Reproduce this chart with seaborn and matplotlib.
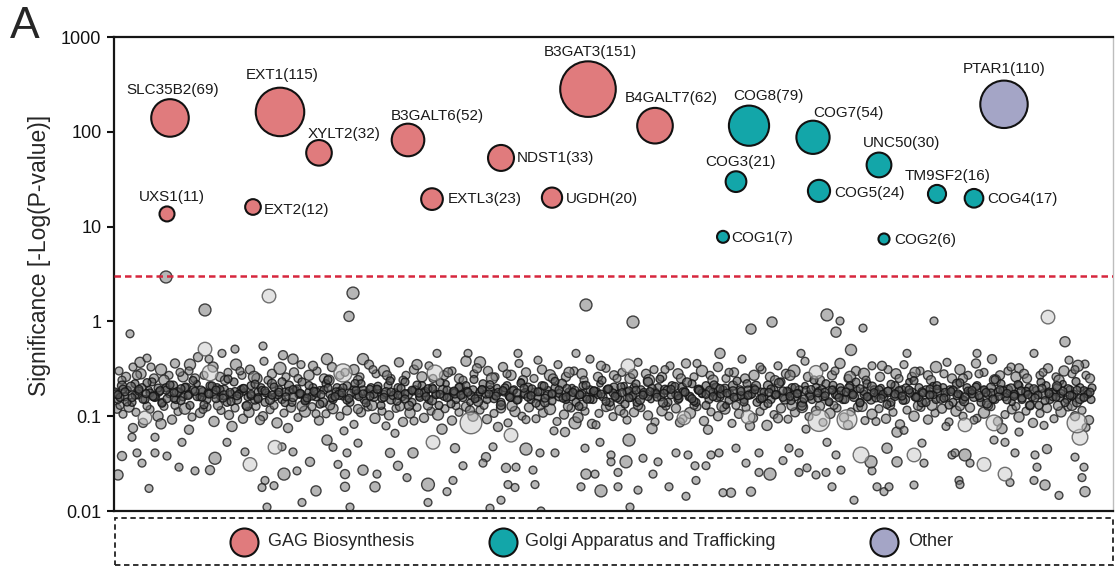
import matplotlib
matplotlib.use("Agg")
import matplotlib.pyplot as plt
from matplotlib.patches import Rectangle
import pandas as pd
import seaborn as sns

# ---------------- screen hits (labelled genes) ----------------
genes = ["SLC35B2", "EXT1", "XYLT2", "UXS1", "EXT2", "B3GALT6", "NDST1", "EXTL3", "UGDH",
         "B3GAT3", "B4GALT7", "COG8", "COG3", "COG1", "COG7", "COG5", "UNC50", "TM9SF2",
         "COG4", "COG2", "PTAR1"]
gene_group = ["GAG Biosynthesis"] * 11 + ["Golgi Apparatus and Trafficking"] * 9 + ["Other"]
gene_pos = [56, 166, 205, 53, 139, 294, 387, 318, 438, 474, 541,
            635, 622, 609, 699, 705, 765, 823, 860, 770, 890]
gene_sig = [140, 162, 60, 13.6, 16.1, 82, 53, 19.5, 20.2, 282, 116,
            116, 29.8, 7.8, 87.5, 23.8, 44.7, 22.1, 19.9, 7.4, 195]
gene_n = [69, 115, 32, 11, 12, 52, 33, 23, 20, 151, 62,
          79, 21, 7, 54, 24, 30, 16, 17, 6, 110]

group_order = ["GAG Biosynthesis", "Golgi Apparatus and Trafficking", "Other"]
threshold = 3.0
y_ticks = [0.01, 0.1, 1, 10, 100, 1000]
y_tick_labels = ["0.01", "0.1", "1", "10", "100", "1000"]

# ---------------- all other genes: (position, significance, guides) ----------------
cloud_band = [
    (1,0.18,3),(4,0.15,3),(8,0.21,4),(11,0.16,3),(14,0.19,2),(18,0.14,3),(21,0.22,3),(24,0.17,4),(28,0.2,3),(31,0.15,3),
    (35,0.19,2),(38,0.23,3),(41,0.16,4),(45,0.18,3),(48,0.14,3),(52,0.2,3),(55,0.17,2),(59,0.21,4),(62,0.15,3),(65,0.18,3),
    (69,0.16,3),(72,0.2,4),(76,0.13,3),(79,0.19,3),(83,0.22,2),(86,0.16,3),(89,0.18,4),(93,0.15,3),(96,0.21,3),(100,0.17,3),
    (103,0.2,3),(106,0.16,2),(110,0.19,4),(113,0.14,3),(117,0.17,3),(120,0.23,3),(123,0.15,4),(127,0.19,3),(130,0.18,2),(134,0.16,3),
    (137,0.21,3),(141,0.15,4),(144,0.18,3),(147,0.2,3),(151,0.14,3),(154,0.17,2),(158,0.22,4),(161,0.16,3),(165,0.19,3),(168,0.15,3),
    (171,0.18,3),(175,0.21,4),(178,0.14,3),(182,0.19,2),(185,0.17,3),(188,0.23,3),(192,0.15,4),(195,0.18,3),(199,0.2,3),(202,0.16,3),
    (206,0.19,2),(209,0.14,4),(212,0.22,3),(216,0.17,3),(219,0.15,3),(223,0.2,3),(226,0.18,4),(229,0.16,2),(233,0.21,3),(236,0.14,3),
    (240,0.19,3),(243,0.17,4),(247,0.22,3),(250,0.15,3),(253,0.18,2),(257,0.2,3),(260,0.16,4),(264,0.19,3),(267,0.13,3),(270,0.17,3),
    (274,0.21,3),(277,0.15,4),(281,0.18,2),(284,0.2,3),(288,0.16,3),(291,0.23,3),(294,0.17,4),(298,0.14,3),(301,0.19,3),(305,0.16,2),
    (308,0.21,3),(311,0.18,4),(315,0.15,3),(318,0.2,3),(322,0.17,3),(325,0.13,3),(329,0.19,4),(332,0.22,2),(335,0.16,3),(339,0.18,3),
    (342,0.15,3),(346,0.2,4),(349,0.17,3),(352,0.21,3),(356,0.14,2),(359,0.19,3),(363,0.16,4),(366,0.18,3),(369,0.22,3),(373,0.15,3),
    (376,0.19,3),(380,0.17,4),(383,0.2,2),(387,0.14,3),(390,0.18,3),(393,0.21,3),(397,0.16,4),(400,0.19,3),(404,0.15,3),(407,0.23,2),
    (410,0.17,3),(414,0.2,4),(417,0.15,3),(421,0.18,3),(424,0.16,3),(428,0.21,3),(431,0.14,4),(434,0.19,2),(438,0.17,3),(441,0.2,3),
    (445,0.16,3),(448,0.22,4),(452,0.15,3),(455,0.18,3),(458,0.2,2),(462,0.14,3),(465,0.17,4),(469,0.21,3),(472,0.16,3),(476,0.19,3),
    (479,0.15,3),(482,0.18,4),(486,0.22,2),(489,0.16,3),(493,0.19,3),(496,0.14,3),(500,0.2,4),(503,0.17,3),(506,0.15,3),(510,0.21,2),
    (513,0.18,3),(517,0.16,4),(520,0.2,3),(523,0.14,3),(527,0.19,3),(530,0.17,3),(534,0.23,4),(537,0.15,2),(541,0.18,3),(544,0.2,3),
    (547,0.16,3),(551,0.19,4),(554,0.14,3),(558,0.21,3),(561,0.17,2),(564,0.15,3),(568,0.2,4),(571,0.18,3),(575,0.16,3),(578,0.22,3),
    (582,0.14,3),(585,0.19,4),(588,0.17,2),(592,0.21,3),(595,0.15,3),(599,0.18,3),(602,0.2,4),(606,0.16,3),(609,0.19,3),(612,0.13,2),
    (616,0.17,3),(619,0.21,4),(623,0.16,3),(626,0.19,3),(630,0.15,3),(633,0.22,3),(636,0.17,4),(640,0.2,2),(643,0.14,3),(647,0.18,3),
    (650,0.16,3),(654,0.21,4),(657,0.15,3),(660,0.19,3),(664,0.17,2),(667,0.23,3),(671,0.15,4),(674,0.18,3),(678,0.2,3),(681,0.16,3),
    (685,0.19,3),(688,0.14,4),(691,0.21,2),(695,0.17,3),(698,0.15,3),(702,0.2,3),(705,0.18,4),(709,0.16,3),(712,0.22,3),(715,0.14,2),
    (719,0.19,3),(722,0.17,4),(726,0.2,3),(729,0.15,3),(733,0.18,3),(736,0.21,3),(740,0.16,4),(743,0.19,2),(746,0.14,3),(750,0.17,3),
    (753,0.22,3),(757,0.15,4),(760,0.19,3),(764,0.17,3),(767,0.2,2),(770,0.16,3),(774,0.18,4),(777,0.14,3),(781,0.21,3),(784,0.17,3),
    (788,0.19,3),(791,0.15,4),(795,0.23,2),(798,0.18,3),(801,0.16,3),(805,0.2,3),(808,0.14,4),(812,0.19,3),(815,0.17,3),(819,0.21,2),
    (822,0.15,3),(825,0.18,4),(829,0.2,3),(832,0.16,3),(836,0.19,3),(839,0.14,3),(843,0.22,4),(846,0.17,2),(849,0.15,3),(853,0.2,3),
    (856,0.18,3),(860,0.16,4),(863,0.21,3),(867,0.14,3),(870,0.19,2),(874,0.17,3),(877,0.2,4),(881,0.15,3),(884,0.18,3),(887,0.22,3),
    (891,0.16,3),(894,0.19,4),(898,0.14,2),(901,0.17,3),(905,0.21,3),(908,0.15,3),(912,0.18,4),(915,0.2,3),(918,0.16,3),(922,0.19,2),
    (925,0.13,3),(929,0.17,4),(932,0.21,3),(936,0.15,3),(939,0.18,3),(943,0.2,3),(946,0.16,4),(949,0.22,2),(953,0.15,3),(956,0.19,3),
    (960,0.17,3),(963,0.14,4),(966,0.2,3),(970,0.16,3),(973,0.18,3),(977,0.15,3),
]

cloud_core = [
    (2,0.172,3),(6,0.158,3),(9,0.193,3),(13,0.141,3),(17,0.205,4),(21,0.167,3),(25,0.184,3),(29,0.151,3),(33,0.226,3),(36,0.176,3),
    (40,0.162,4),(44,0.198,3),(48,0.137,3),(52,0.188,3),(56,0.214,3),(60,0.155,3),(63,0.179,4),(67,0.146,3),(71,0.201,3),(75,0.169,3),
    (79,0.238,3),(83,0.161,3),(87,0.186,4),(90,0.132,3),(94,0.174,3),(98,0.209,3),(102,0.153,3),(106,0.191,3),(110,0.166,4),(114,0.247,3),
    (117,0.143,3),(121,0.182,3),(125,0.171,3),(129,0.196,3),(133,0.128,4),(137,0.164,3),(141,0.218,3),(144,0.157,3),(148,0.187,3),(152,0.176,3),
    (156,0.149,4),(160,0.203,3),(164,0.168,3),(168,0.231,3),(171,0.139,3),(175,0.183,3),(179,0.159,4),(183,0.194,3),(187,0.172,3),(191,0.145,3),
    (195,0.211,3),(198,0.163,3),(202,0.178,4),(206,0.134,3),(210,0.189,3),(214,0.242,3),(218,0.156,3),(222,0.181,3),(225,0.168,4),(229,0.199,3),
    (233,0.148,3),(237,0.175,3),(241,0.221,3),(245,0.161,3),(249,0.186,4),(252,0.138,3),(256,0.192,3),(260,0.171,3),(264,0.207,3),(268,0.154,3),
    (272,0.179,4),(276,0.236,3),(279,0.165,3),(283,0.144,3),(287,0.197,3),(291,0.173,3),(295,0.129,4),(299,0.184,3),(303,0.213,3),(306,0.158,3),
    (310,0.177,3),(314,0.195,3),(318,0.147,4),(322,0.169,3),(326,0.228,3),(330,0.162,3),(333,0.188,3),(337,0.135,3),(341,0.174,4),(345,0.202,3),
    (349,0.157,3),(353,0.183,3),(357,0.166,3),(360,0.244,3),(364,0.142,4),(368,0.191,3),(372,0.171,3),(376,0.215,3),(380,0.153,3),(384,0.178,3),
    (387,0.131,4),(391,0.199,3),(395,0.164,3),(399,0.186,3),(403,0.148,3),(407,0.223,3),(411,0.175,4),(414,0.159,3),(418,0.194,3),(422,0.137,3),
    (426,0.181,3),(430,0.208,3),(434,0.167,4),(438,0.145,3),(441,0.233,3),(445,0.174,3),(449,0.155,3),(453,0.196,3),(457,0.163,4),(461,0.187,3),
    (465,0.127,3),(468,0.172,3),(472,0.212,3),(476,0.151,3),(480,0.182,4),(484,0.169,3),(488,0.239,3),(492,0.143,3),(495,0.193,3),(499,0.176,3),
    (503,0.158,4),(507,0.204,3),(511,0.134,3),(515,0.185,3),(519,0.166,3),(522,0.219,3),(526,0.149,4),(530,0.178,3),(534,0.161,3),(538,0.197,3),
    (542,0.173,3),(546,0.246,3),(549,0.139,4),(553,0.188,3),(557,0.168,3),(561,0.206,3),(565,0.154,3),(569,0.181,3),(573,0.227,4),(576,0.162,3),
    (580,0.144,3),(584,0.192,3),(588,0.175,3),(592,0.13,3),(596,0.186,4),(600,0.214,3),(603,0.157,3),(607,0.171,3),(611,0.198,3),(615,0.147,3),
    (619,0.183,4),(623,0.235,3),(627,0.165,3),(630,0.141,3),(634,0.189,3),(638,0.172,3),(642,0.209,4),(646,0.152,3),(650,0.179,3),(654,0.136,3),
    (657,0.194,3),(661,0.167,3),(665,0.224,4),(669,0.158,3),(673,0.184,3),(677,0.146,3),(681,0.201,3),(684,0.174,3),(688,0.129,4),(692,0.187,3),
    (696,0.163,3),(700,0.241,3),(704,0.155,3),(708,0.191,3),(711,0.176,4),(715,0.142,3),(719,0.212,3),(723,0.168,3),(727,0.185,3),(731,0.15,3),
    (735,0.197,4),(738,0.173,3),(742,0.229,3),(746,0.138,3),(750,0.182,3),(754,0.161,3),(758,0.205,4),(762,0.156,3),(765,0.19,3),(769,0.17,3),
    (773,0.133,3),(777,0.217,3),(781,0.164,4),(785,0.186,3),(789,0.147,3),(792,0.199,3),(796,0.175,3),(800,0.237,3),(804,0.159,4),(808,0.181,3),
    (812,0.14,3),(816,0.193,3),(819,0.168,3),(823,0.21,3),(827,0.153,4),(831,0.178,3),(835,0.131,3),(839,0.189,3),(843,0.165,3),(846,0.225,3),
    (850,0.144,4),(854,0.184,3),(858,0.172,3),(862,0.203,3),(866,0.157,3),(870,0.19,3),(873,0.136,4),(877,0.176,3),(881,0.243,3),(885,0.162,3),
    (889,0.187,3),(893,0.149,3),(897,0.196,4),(900,0.17,3),(904,0.216,3),(908,0.155,3),(912,0.183,3),(916,0.13,3),(920,0.192,4),(924,0.167,3),
    (927,0.228,3),(931,0.146,3),(935,0.18,3),(939,0.16,3),(943,0.207,4),(947,0.174,3),(951,0.139,3),(954,0.195,3),(958,0.164,3),(962,0.232,3),
    (966,0.152,4),(970,0.186,3),(974,0.171,3),(978,0.199,3),
]

cloud_center = [
    (4,0.168,3),(11,0.181,3),(18,0.157,3),(25,0.192,3),(32,0.173,3),(39,0.162,3),(46,0.186,3),(53,0.153,3),(60,0.177,3),(67,0.195,3),
    (74,0.165,3),(81,0.183,3),(88,0.159,3),(95,0.171,3),(102,0.189,3),(109,0.155,3),(116,0.178,3),(123,0.164,3),(130,0.196,3),(137,0.17,3),
    (144,0.152,3),(151,0.185,3),(158,0.167,3),(165,0.179,3),(172,0.16,3),(179,0.191,3),(186,0.174,3),(193,0.156,3),(200,0.183,3),(207,0.169,3),
    (214,0.198,3),(221,0.161,3),(228,0.176,3),(235,0.154,3),(242,0.187,3),(249,0.172,3),(256,0.163,3),(263,0.193,3),(270,0.158,3),(277,0.18,3),
    (284,0.166,3),(291,0.152,3),(298,0.188,3),(305,0.175,3),(312,0.161,3),(319,0.194,3),(326,0.17,3),(333,0.157,3),(340,0.184,3),(347,0.166,3),
    (354,0.179,3),(361,0.153,3),(368,0.19,3),(375,0.172,3),(382,0.163,3),(389,0.186,3),(396,0.158,3),(403,0.176,3),(410,0.197,3),(417,0.165,3),
    (424,0.181,3),(431,0.155,3),(438,0.173,3),(445,0.189,3),(452,0.16,3),(459,0.178,3),(466,0.168,3),(473,0.151,3),(480,0.185,3),(487,0.171,3),
    (494,0.194,3),(501,0.162,3),(508,0.177,3),(515,0.156,3),(522,0.188,3),(529,0.167,3),(536,0.182,3),(543,0.159,3),(550,0.174,3),(557,0.192,3),
    (564,0.164,3),(571,0.179,3),(578,0.153,3),(585,0.187,3),(592,0.17,3),(599,0.161,3),(606,0.196,3),(613,0.175,3),(620,0.158,3),(627,0.183,3),
    (634,0.166,3),(641,0.19,3),(648,0.155,3),(655,0.178,3),(662,0.169,3),(669,0.185,3),(676,0.162,3),(683,0.173,3),(690,0.152,3),(697,0.191,3),
    (704,0.176,3),(711,0.164,3),(718,0.188,3),(725,0.157,3),(732,0.18,3),(739,0.168,3),(746,0.195,3),(753,0.16,3),(760,0.177,3),(767,0.154,3),
    (774,0.184,3),(781,0.171,3),(788,0.163,3),(795,0.189,3),(802,0.158,3),(809,0.176,3),(816,0.167,3),(823,0.193,3),(830,0.155,3),(837,0.182,3),
    (844,0.172,3),(851,0.16,3),(858,0.187,3),(865,0.165,3),(872,0.178,3),(879,0.152,3),(886,0.19,3),(893,0.174,3),(900,0.162,3),(907,0.185,3),
    (914,0.169,3),(921,0.156,3),(928,0.197,3),(935,0.173,3),(942,0.159,3),(949,0.183,3),(956,0.166,3),(963,0.188,3),(970,0.157,3),(976,0.179,3),
]

cloud_upper = [
    (52,2.94,7),(155,1.85,9),(91,1.32,7),(16,0.74,3),(91,0.51,9),(149,0.55,3),(108,0.46,3),(121,0.51,3),
    (26,0.37,5),(76,0.35,6),(96,0.286,12),(239,1.99,7),(235,1.13,5),(179,0.40,5),(213,0.40,6),(249,0.40,6),
    (229,0.286,16),(323,0.46,3),(321,0.286,12),(472,1.49,7),(519,0.985,7),(637,0.83,5),(658,0.985,5),
    (514,0.34,9),(606,0.46,5),(713,1.17,7),(726,1.01,3),(722,0.77,5),(749,0.85,3),(820,1.01,3),(687,0.46,3),
    (737,0.50,6),(793,0.46,3),(934,1.11,9),(951,0.61,5),(863,0.46,3),(878,0.40,4),(920,0.46,3),(955,0.39,3),
    (971,0.355,3),(905,0.32,4),(354,0.46,3),(404,0.46,3),(462,0.46,3),(366,0.37,6),
    (5,0.3,3),(12,0.26,4),(19,0.33,3),(27,0.28,5),(33,0.41,3),(40,0.25,4),(47,0.31,6),(55,0.27,3),(61,0.36,4),
    (69,0.26,5),(75,0.3,3),(84,0.42,4),(90,0.27,3),(99,0.33,5),(106,0.26,4),(114,0.29,3),(122,0.35,6),(128,0.27,3),
    (136,0.31,4),(143,0.25,5),(150,0.38,3),(158,0.28,4),(166,0.32,7),(172,0.26,3),(180,0.29,4),(187,0.35,3),
    (195,0.27,5),(203,0.3,3),(210,0.25,4),(218,0.33,4),(226,0.27,3),(240,0.31,5),(246,0.26,3),(255,0.35,4),
    (262,0.28,3),(270,0.3,6),(277,0.25,3),(285,0.37,4),(292,0.27,3),(300,0.31,4),(308,0.26,5),(315,0.34,3),
    (330,0.27,4),(338,0.3,3),(345,0.25,4),(352,0.38,5),(360,0.28,3),(374,0.3,4),(381,0.26,3),(389,0.33,4),
    (397,0.27,5),(405,0.36,3),(412,0.29,4),(420,0.25,3),(428,0.31,4),(436,0.27,6),(444,0.35,3),(452,0.26,4),
    (460,0.3,3),(468,0.28,5),(476,0.4,3),(484,0.26,4),(492,0.32,3),(500,0.27,4),(508,0.29,3),(516,0.25,5),
    (524,0.37,3),(532,0.28,4),(540,0.31,3),(548,0.26,4),(556,0.34,3),(564,0.28,5),(572,0.36,4),(580,0.26,3),
    (588,0.3,6),(596,0.27,3),(604,0.33,4),(612,0.25,3),(620,0.29,4),(628,0.4,3),(640,0.27,5),(648,0.31,3),
    (656,0.26,4),(664,0.34,3),(672,0.28,4),(680,0.3,7),(694,0.26,4),(702,0.29,9),(710,0.33,3),(718,0.27,4),
    (726,0.36,5),(734,0.25,3),(742,0.3,4),(750,0.28,6),(758,0.34,3),(766,0.26,4),(774,0.31,3),(782,0.28,5),
    (790,0.35,3),(798,0.26,4),(806,0.3,3),(814,0.27,4),(822,0.33,6),(830,0.28,3),(838,0.25,4),(846,0.31,5),
    (854,0.27,3),(862,0.36,4),(870,0.29,3),(886,0.27,4),(894,0.3,3),(902,0.26,5),(910,0.28,4),(926,0.27,3),
    (934,0.32,4),(942,0.26,3),(950,0.3,5),(958,0.28,3),(964,0.34,6),(972,0.27,3),
    (8,0.24,3),(23,0.27,4),(37,0.33,3),(50,0.24,5),(66,0.29,3),(81,0.25,4),(95,0.4,3),(111,0.24,4),(126,0.3,3),
    (140,0.26,6),(154,0.24,3),(169,0.44,4),(184,0.25,3),(199,0.34,4),(215,0.24,5),(231,0.29,3),(244,0.24,4),
    (259,0.31,3),(273,0.27,4),(289,0.24,3),(303,0.35,5),(319,0.25,3),(334,0.29,4),(349,0.24,3),(363,0.32,4),
    (378,0.25,6),(393,0.28,3),(409,0.24,4),(424,0.39,3),(439,0.25,4),(455,0.29,5),(470,0.24,3),(487,0.34,4),
    (503,0.25,3),(519,0.28,4),(535,0.24,6),(551,0.31,3),(567,0.25,4),(583,0.36,3),(599,0.24,5),(615,0.29,3),
    (631,0.25,4),(646,0.33,3),(661,0.24,4),(676,0.27,5),(691,0.38,3),(706,0.24,4),(721,0.3,3),(736,0.26,6),
    (752,0.24,3),(768,0.34,4),(785,0.25,3),(801,0.29,5),(817,0.24,4),(833,0.37,3),(849,0.25,4),(865,0.28,3),
    (881,0.24,6),(897,0.33,3),(913,0.25,4),(929,0.29,3),(945,0.24,5),(961,0.31,3),(976,0.25,4),
]

cloud_lower = [
    (31,0.096,9),(8,0.038,4),(53,0.038,3),(101,0.036,7),(136,0.031,9),(161,0.047,9),(4,0.024,5),(35,0.0173,3),
    (151,0.021,3),(153,0.011,3),(96,0.027,4),(65,0.029,3),(28,0.032,3),(18,0.060,3),(41,0.060,3),(68,0.053,3),
    (113,0.053,3),(131,0.042,3),(148,0.0177,3),(160,0.0185,3),(81,0.0265,3),(41,0.041,3),(23,0.041,3),
    (319,0.053,9),(170,0.0245,7),(202,0.0163,5),(188,0.0123,3),(236,0.011,3),(249,0.027,5),(231,0.0245,4),
    (231,0.018,4),(261,0.018,5),(263,0.0245,3),(284,0.030,4),(293,0.0225,3),(314,0.019,8),(314,0.0123,3),
    (333,0.016,3),(183,0.0265,3),(179,0.042,3),(196,0.033,4),(244,0.052,3),(233,0.041,3),(219,0.047,3),
    (276,0.041,4),(299,0.041,5),(281,0.066,3),(224,0.031,3),(168,0.0475,3),(213,0.056,5),
    (357,0.085,23),(397,0.063,9),(412,0.045,7),(426,0.041,3),(441,0.041,3),(372,0.037,4),(379,0.0475,3),
    (341,0.046,4),(349,0.030,3),(369,0.032,3),(392,0.0285,4),(402,0.029,3),(419,0.027,3),(339,0.021,3),
    (394,0.019,3),(401,0.0177,3),(387,0.013,3),(376,0.0107,3),(427,0.010,3),(421,0.019,3),(472,0.0245,5),
    (481,0.0245,3),(467,0.018,3),(487,0.0163,7),(471,0.046,3),(486,0.053,3),(497,0.039,3),(497,0.033,3),
    (451,0.068,4),(461,0.085,7),
    (570,0.096,9),(634,0.098,9),(512,0.033,7),(515,0.056,7),(656,0.0245,7),(637,0.016,4),(617,0.0156,4),
    (609,0.0156,3),(572,0.0143,3),(555,0.018,3),(524,0.0166,3),(516,0.011,3),(582,0.021,3),(597,0.039,3),
    (605,0.041,3),(529,0.036,3),(544,0.033,3),(562,0.041,3),(574,0.039,3),(581,0.030,3),(592,0.030,3),
    (539,0.0245,3),(622,0.046,3),(632,0.032,3),(645,0.041,3),(645,0.0255,3),(669,0.034,3),(504,0.018,3),
    (504,0.0255,3),
    (705,0.090,23),(733,0.092,19),(747,0.039,12),(783,0.068,5),(800,0.039,9),(773,0.046,5),(685,0.0255,3),
    (693,0.0285,3),(702,0.024,3),(712,0.0255,3),(718,0.018,3),(727,0.027,3),(740,0.013,3),(758,0.0265,3),
    (763,0.018,3),(770,0.016,3),(775,0.018,3),(800,0.0188,3),(783,0.033,5),(810,0.032,3),(808,0.052,3),
    (685,0.041,3),(675,0.046,3),(722,0.039,3),(713,0.053,3),(757,0.033,7),(838,0.039,3),
    (851,0.039,7),(870,0.031,9),(891,0.0245,9),(896,0.020,3),(931,0.0188,5),(945,0.0146,3),(971,0.016,5),
    (970,0.029,3),(968,0.0225,3),(961,0.037,3),(933,0.045,4),(921,0.039,3),(901,0.041,3),(923,0.029,3),
    (920,0.021,3),(845,0.021,3),(846,0.019,3),(841,0.041,3),(856,0.032,3),(880,0.056,3),(891,0.053,3),
    (905,0.068,3),(966,0.06,12),(963,0.085,19),(880,0.085,12),(851,0.081,9),
    (3,0.12,4),(9,0.105,3),(15,0.125,5),(22,0.11,3),(29,0.085,4),(36,0.118,3),(44,0.1,5),(50,0.127,3),
    (58,0.092,4),(64,0.112,3),(71,0.12,6),(78,0.098,3),(86,0.108,4),(93,0.125,3),(100,0.088,5),(107,0.115,3),
    (115,0.103,4),(121,0.122,3),(129,0.094,4),(135,0.11,5),(142,0.127,3),(149,0.1,4),(156,0.117,3),(163,0.085,5),
    (170,0.108,3),(177,0.123,4),(184,0.097,3),(191,0.112,6),(198,0.126,3),(205,0.09,4),(212,0.106,3),(219,0.12,5),
    (226,0.1,3),(233,0.115,4),(240,0.082,3),(247,0.11,4),(254,0.125,3),(261,0.095,5),(268,0.113,3),(275,0.102,4),
    (282,0.121,3),(289,0.087,4),(296,0.108,5),(303,0.124,3),(310,0.096,4),(317,0.113,3),(324,0.104,6),(331,0.12,3),
    (338,0.09,4),(345,0.11,3),(352,0.126,4),(359,0.1,5),(366,0.116,3),(373,0.093,4),(380,0.107,3),(387,0.121,4),
    (394,0.085,3),(401,0.112,5),(408,0.1,3),(415,0.124,4),(422,0.094,3),(429,0.109,4),(436,0.119,6),(443,0.088,3),
    (450,0.104,4),(457,0.122,3),(464,0.097,5),(471,0.113,3),(478,0.083,4),(485,0.107,3),(492,0.125,4),(499,0.099,3),
    (506,0.116,5),(513,0.091,3),(520,0.11,4),(527,0.123,3),(534,0.102,4),(541,0.087,3),(548,0.114,5),(555,0.1,3),
    (562,0.121,4),(569,0.094,3),(576,0.108,6),(583,0.126,3),(590,0.089,4),(597,0.111,3),(604,0.1,4),(611,0.119,5),
    (618,0.084,3),(625,0.106,4),(632,0.123,3),(639,0.096,4),(646,0.112,3),(653,0.08,5),(660,0.104,3),(667,0.121,4),
    (674,0.093,3),(681,0.11,4),(688,0.125,6),(695,0.099,3),(702,0.114,4),(709,0.086,3),(716,0.107,5),(723,0.122,3),
    (730,0.097,4),(737,0.111,3),(744,0.125,4),(751,0.09,3),(758,0.105,5),(765,0.12,3),(772,0.094,4),(779,0.11,3),
    (786,0.082,4),(793,0.116,3),(800,0.1,5),(807,0.124,3),(814,0.092,4),(821,0.108,3),(828,0.12,4),(835,0.087,3),
    (842,0.113,5),(849,0.1,3),(856,0.123,4),(863,0.095,3),(870,0.109,6),(877,0.126,3),(884,0.088,4),(891,0.104,3),
    (898,0.118,4),(905,0.098,5),(912,0.113,3),(919,0.085,4),(926,0.107,3),(933,0.122,4),(940,0.094,3),(947,0.111,5),
    (954,0.125,3),(961,0.1,4),(968,0.115,3),(975,0.091,4),
    (6,0.13,3),(19,0.075,4),(33,0.128,3),(47,0.083,5),(61,0.13,3),(75,0.072,4),(89,0.118,3),(104,0.13,4),
    (118,0.078,5),(132,0.129,3),(146,0.091,4),(160,0.13,3),(174,0.075,4),(188,0.128,5),(202,0.106,3),(216,0.13,4),
    (230,0.07,3),(244,0.119,4),(258,0.13,5),(272,0.079,3),(286,0.127,4),(300,0.089,3),(314,0.13,4),(328,0.073,5),
    (342,0.129,3),(356,0.115,4),(370,0.13,3),(384,0.077,4),(398,0.128,5),(412,0.092,3),(426,0.13,4),(440,0.07,3),
    (454,0.127,4),(468,0.13,5),(482,0.081,3),(496,0.129,4),(510,0.107,3),(524,0.13,4),(538,0.074,5),(552,0.128,3),
    (566,0.086,4),(580,0.13,3),(594,0.072,4),(608,0.127,5),(622,0.13,3),(636,0.079,4),(650,0.129,3),(664,0.095,4),
    (678,0.13,5),(692,0.073,3),(706,0.128,4),(720,0.13,3),(734,0.081,4),(748,0.127,5),(762,0.088,3),(776,0.13,4),
    (790,0.071,3),(804,0.129,4),(818,0.13,5),(832,0.078,3),(846,0.128,4),(860,0.091,3),(874,0.13,4),(888,0.074,5),
    (902,0.127,3),(916,0.13,4),(930,0.08,3),(944,0.129,4),(958,0.13,5),(972,0.076,3),
]

# ---------------- styling ----------------
W, H, DPI = 1115, 567, 100
palette = {"GAG Biosynthesis": "#E07B7D",
           "Golgi Apparatus and Trafficking": "#13A6A9",
           "Other": "#A4A5C6"}
AREA_PER_GUIDE = 10.6          # marker area (pt^2) for one guide
SIZE_NORM = (0, 200)
SIZE_RANGE = (0, AREA_PER_GUIDE * 200)

# label placement: offset (px, right / down) of the label centre from the bubble centre
label_offset = {
    "SLC35B2": (3, -28, "center"), "EXT1": (2, -37, "center"), "XYLT2": (25, -19, "center"),
    "UXS1": (5, -17, "center"), "EXT2": (11, 3, "left"), "B3GALT6": (29, -24, "center"),
    "NDST1": (16, 0, "left"), "EXTL3": (16, 0, "left"), "UGDH": (14, 1, "left"),
    "B3GAT3": (2, -37, "center"), "B4GALT7": (16, -28, "center"), "COG8": (19, -30, "center"),
    "COG3": (5, -20, "center"), "COG1": (8, 1, "left"), "COG7": (35, -24, "center"),
    "COG5": (15, 2, "left"), "UNC50": (23, -22, "center"), "TM9SF2": (11, -18, "center"),
    "COG4": (13, 1, "left"), "COG2": (10, 1, "left"), "PTAR1": (0, -35, "center"),
}

sns.set_theme(style="ticks")
plt.rcParams["font.family"] = ["Liberation Sans", "DejaVu Sans"]

fig = plt.figure(figsize=(W / DPI, H / DPI), dpi=DPI)
ax = fig.add_axes([114 / W, 56 / H, 999 / W, 474 / H])

px2pt = 72 / DPI
cols = ["pos", "sig", "n"]


def draw_cloud(df, face, edge, z):
    sns.scatterplot(data=df, x="pos", y="sig", size="n", sizes=SIZE_RANGE, size_norm=SIZE_NORM,
                    color=face, edgecolor=edge, linewidth=1.0, legend=False, ax=ax, zorder=z)


# background genes: scattered genes, then the dense central band, then the big light ones
spread = pd.DataFrame(cloud_lower + cloud_upper, columns=cols)
band = pd.DataFrame(cloud_band + cloud_core + cloud_center, columns=cols)
draw_cloud(spread[spread["n"] < 9], (0.48, 0.48, 0.48, 0.55), (0.15, 0.15, 0.15, 0.85), 2)
draw_cloud(band, (0.34, 0.34, 0.34, 0.6), (0.08, 0.08, 0.08, 0.85), 3)
draw_cloud(spread[spread["n"] >= 9], (0.80, 0.80, 0.80, 0.55), (0.35, 0.35, 0.35, 0.85), 3.5)

# significance threshold
ax.axhline(threshold, color="#D7263D", lw=1.8, ls=(0, (2.6, 1.6)), zorder=4)

# hits
hits = pd.DataFrame({"gene": genes, "group": gene_group, "pos": gene_pos,
                     "sig": gene_sig, "n": gene_n})
sns.scatterplot(data=hits, x="pos", y="sig", hue="group", hue_order=group_order,
                palette=palette, size="n", sizes=SIZE_RANGE, size_norm=SIZE_NORM,
                edgecolor="#111111", linewidth=1.5, alpha=1, legend=False, ax=ax, zorder=5)

for g, x, y, n in zip(genes, gene_pos, gene_sig, gene_n):
    dx, dy, ha = label_offset[g]
    ax.annotate(f"{g}({n})", xy=(x, y), xytext=(dx * px2pt, -dy * px2pt),
                textcoords="offset points", ha=ha, va="center",
                fontsize=11, color="#1a1a1a", zorder=6)

# axes
ax.set_yscale("log")
ax.set_ylim(0.01, 1000)
ax.set_xlim(0, 999)
ax.set_yticks(y_ticks)
ax.set_yticklabels(y_tick_labels)
ax.minorticks_off()
ax.set_xticks([])
ax.set_xlabel("")
ax.set_ylabel("Significance [-Log(P-value)]", fontsize=16.5)
ax.yaxis.set_label_coords(-0.063, 0.54)
ax.tick_params(axis="y", length=5, width=1.5, labelsize=13, pad=4, colors="#111111")
for side in ["left", "top", "bottom"]:
    ax.spines[side].set_linewidth(1.6)
    ax.spines[side].set_color("#151515")
ax.spines["right"].set_linewidth(1.0)
ax.spines["right"].set_color("#bdbdbd")

# panel letter
fig.text(10 / W, 1 - 26 / H, "A", fontsize=32, va="center", ha="left")

# legend strip
lax = fig.add_axes([115 / W, 2 / H, 998 / W, 47 / H])
lax.set_xlim(0, 1)
lax.set_ylim(0, 1)
lax.axis("off")
lax.add_patch(Rectangle((0, 0), 1, 1, transform=lax.transAxes, fill=False,
                        ls=(0, (3, 2)), lw=1.3, ec="#222222", clip_on=False))
legend_marker_x = [0.129, 0.389, 0.771]
legend_text_x = [0.153, 0.411, 0.795]
for grp, mx, tx in zip(group_order, legend_marker_x, legend_text_x):
    lax.scatter([mx], [0.5], s=(28 * px2pt) ** 2, color=palette[grp],
                edgecolor="#111111", linewidth=1.5, transform=lax.transAxes, clip_on=False)
    lax.text(tx, 0.5, grp, fontsize=13, va="center", ha="left", transform=lax.transAxes)

fig.savefig("out.png", dpi=DPI)
